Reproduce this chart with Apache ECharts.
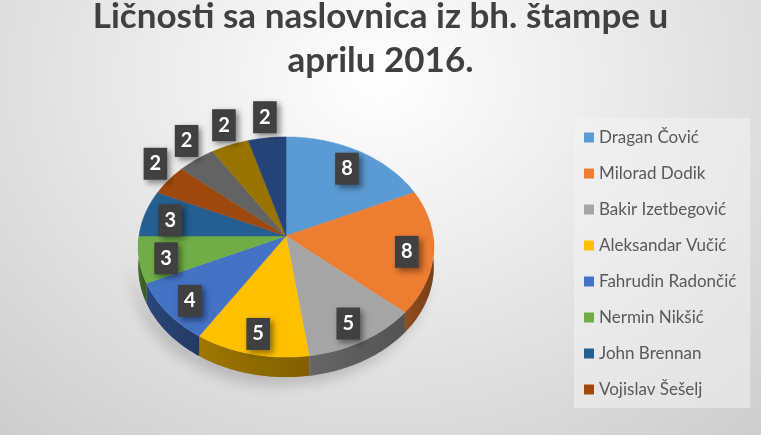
<!DOCTYPE html>
<html>
<head>
<meta charset="utf-8">
<script src="https://cdn.jsdelivr.net/npm/echarts@6/dist/echarts.min.js"></script>
<style>
  html, body { margin: 0; padding: 0; }
  #chart {
    width: 761px; height: 435px;
    background: radial-gradient(ellipse 75% 110% at 50% 18%, #ffffff 0%, #eeeeee 35%, #cdcdcd 100%);
  }
</style>
</head>
<body>
<div id="chart"></div>
<script>
// Persons and the number of front pages they appeared on
const names = [
  'Dragan Čović', 'Milorad Dodik', 'Bakir Izetbegović', 'Aleksandar Vučić',
  'Fahrudin Radončić', 'Nermin Nikšić', 'John Brennan', 'Vojislav Šešelj',
  'Ličnost 9', 'Ličnost 10', 'Ličnost 11'
];
const values = [8, 8, 5, 5, 4, 3, 3, 2, 2, 2, 2];
const legendCount = 8;

// Slice colours (top face)
const colors = [
  '#5B9BD5', '#ED7D31', '#A5A5A5', '#FFC000', '#4472C4', '#70AD47',
  '#255E91', '#9E480E', '#636363', '#997300', '#264478'
];

// Pie geometry: a tilted disc seen in perspective
const CX = 286, CY = 236, RX = 147, RY = 109, K = 0.1, DEPTH = 20;
const total = values.reduce((a, b) => a + b, 0);

function project(theta, f) {
  const u = f * Math.sin(theta);
  const v = -f * Math.cos(theta);
  const w = 1 - K * v;
  return [CX + RX * u / w, CY + RY * v / w];
}

function arc(a0, a1, f, dy) {
  const pts = [];
  const n = Math.max(2, Math.ceil((a1 - a0) / (Math.PI / 180)));
  for (let i = 0; i <= n; i++) {
    const p = project(a0 + (a1 - a0) * i / n, f);
    pts.push([p[0], p[1] + (dy || 0)]);
  }
  return pts;
}

function shade(hex, k) {
  const n = parseInt(hex.slice(1), 16);
  const r = Math.round(((n >> 16) & 255) * k);
  const g = Math.round(((n >> 8) & 255) * k);
  const b = Math.round((n & 255) * k);
  return 'rgb(' + r + ',' + g + ',' + b + ')';
}

function renderSlice(params, api) {
  const idx = params.seriesIndex;
  const value = api.value(0);
  let before = 0;
  for (let i = 0; i < idx; i++) before += values[i];
  const a0 = before / total * Math.PI * 2;
  const a1 = (before + value) / total * Math.PI * 2;
  const color = colors[idx];
  const children = [];

  // Front wall of the disc (only the half facing the viewer)
  const b0 = Math.max(a0, Math.PI / 2);
  const b1 = Math.min(a1, Math.PI * 1.5);
  if (b1 > b0) {
    const top = arc(b0, b1, 1, 0);
    const bottom = arc(b0, b1, 1, DEPTH).reverse();
    const pts = top.concat(bottom);
    children.push({
      type: 'polygon', z2: -5,
      shape: { points: pts },
      style: {
        fill: 'rgba(120,120,120,0.5)',
        shadowBlur: 14, shadowColor: 'rgba(0,0,0,0.35)',
        shadowOffsetX: -6, shadowOffsetY: 8
      }
    });
    children.push({
      type: 'polygon', z2: 0,
      shape: { points: pts },
      style: {
        fill: {
          type: 'linear', x: 0, y: 0, x2: 1, y2: 0,
          colorStops: [
            { offset: 0, color: shade(color, 0.62) },
            { offset: 1, color: shade(color, 0.5) }
          ]
        },
        stroke: null
      }
    });
  }

  // Top face
  const face = [[CX, CY]].concat(arc(a0, a1, 1, 0));
  children.push({
    type: 'polygon', z2: 10,
    shape: { points: face },
    style: { fill: color, stroke: color, lineWidth: 0.5 }
  });

  // Value label in a dark box
  const mid = (a0 + a1) / 2;
  const small = (a1 - a0) < Math.PI / 9;
  const p = small ? project(mid, 1.12) : project(mid, 0.82);
  children.push({
    type: 'text', z2: 30,
    x: p[0], y: small ? p[1] - 10 : p[1] + 3,
    style: {
      text: String(value),
      fill: '#ffffff',
      font: 'bold 20px Lato',
      align: 'center', verticalAlign: 'middle',
      lineHeight: 22,
      backgroundColor: '#404040',
      padding: [5, 6, 5, 6],
      shadowBlur: 6, shadowColor: 'rgba(0,0,0,0.45)',
      shadowOffsetX: 3, shadowOffsetY: 3
    }
  });

  return { type: 'group', children: children };
}

const chart = echarts.init(document.getElementById('chart'), null, { renderer: 'canvas' });

chart.setOption({
  animation: false,
  backgroundColor: 'transparent',
  title: {
    text: 'Ličnosti sa naslovnica iz bh. štampe u\naprilu 2016.',
    left: 'center', top: -5, padding: 0,
    textStyle: {
      fontFamily: 'Lato', fontSize: 35, fontWeight: 'bold',
      color: '#404040', lineHeight: 44
    }
  },
  legend: {
    orient: 'vertical',
    left: 574, top: 118,
    padding: [11, 14, 10, 10],
    itemGap: 19, itemWidth: 10, itemHeight: 10,
    icon: 'rect',
    backgroundColor: 'rgba(242,242,242,0.55)',
    textStyle: { fontFamily: 'Lato', fontSize: 17, color: '#595959', lineHeight: 17 },
    data: names.slice(0, legendCount)
  },
  series: names.map((name, i) => ({
    type: 'custom',
    name: name,
    coordinateSystem: 'none',
    itemStyle: { color: colors[i] },
    data: [[values[i]]],
    renderItem: renderSlice
  }))
});
</script>
</body>
</html>
